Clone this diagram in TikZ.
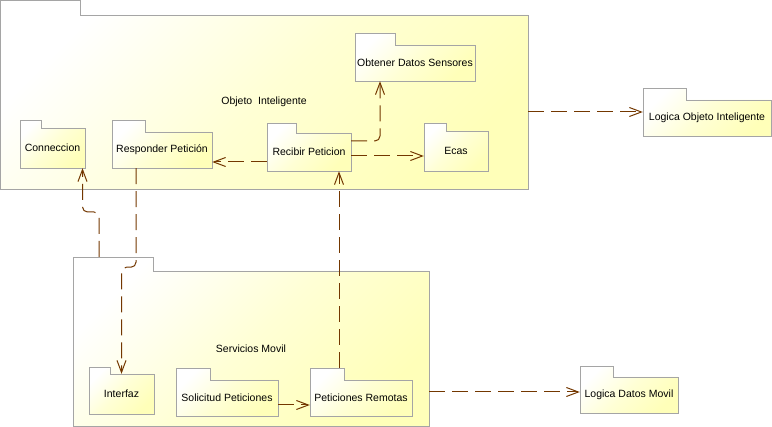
\documentclass[tikz,border=0pt]{standalone}
\usepackage{fontspec}
\setmainfont{Liberation Sans}
\usepackage{tikz}
\usetikzlibrary{arrows.meta}
\definecolor{pkgborder}{RGB}{165,165,165}
\definecolor{pkgyellow}{RGB}{255,255,185}
\definecolor{depbrown}{RGB}{115,55,0}
\def\pkgbox(#1)(#2,#3:#4,#5:#6,#7)#8{%
  \draw[pkg] (#2,#3) -- (#4,#3) -- (#4,#5) -- (#6,#5) -- (#6,#7) -- (#2,#7) -- cycle;
  \coordinate (#1-tab) at (#2,#3);
  \node[pkgtext, minimum width={(#6-#2)*1pt}, minimum height={(#7-#5)*1pt}] (#1) at ({(#2+#6)/2},{(#5+#7)/2}) {#8};}

\begin{document}
\begin{tikzpicture}[x=1pt, y=-1pt,
    pkg/.style={draw=pkgborder, line width=0.8pt, top color=white, bottom color=pkgyellow, middle color=pkgyellow!60, shading angle=45},
    pkgtext/.style={inner sep=0pt, font=\fontsize{10.5}{12}\selectfont},
    dep/.style={draw=depbrown, line width=1pt, dash pattern=on 16pt off 7pt, -{Straight Barb[length=12pt, width=9pt]}}]
			%%%%% START %%%%%
			
			\useasboundingbox (0,0) rectangle (772,427);
			
			\pkgbox(objeto)(0,0:80,15:528,189){Objeto\ \ Inteligente}
			\pkgbox(servicios)(73,257:153,271:429,426){Servicios Movil}
			
			\pkgbox(conneccion)(20,120:41,128:85,168){Conneccion}
			\pkgbox(responder)(112,120:145,132:212,168){Responder Petición}
			\pkgbox(recibir)(267,123:296,133:351,171){Recibir Peticion}
			\pkgbox(obtener)(355,33:395,45:475,81){Obtener Datos Sensores}
			\pkgbox(ecas)(424,123:446,131:488,171){Ecas}
			\pkgbox(logicaoi)(643,88:686,100:771,136){Logica Objeto Inteligente}
			
			\pkgbox(interfaz)(89,367:110,374:154,414){Interfaz}
			\pkgbox(solicitud)(176,368:210,380:278,416){Solicitud Peticiones}
			\pkgbox(remotas)(310,368:344,380:412,416){Peticiones Remotas}
			\pkgbox(logicadm)(580,366:613,377:678,413){Logica Datos Movil}
			
			\coordinate (oi-in) at ([yshift=6pt]logicaoi.west);
			\draw[dep] (objeto.east |- oi-in) -- (oi-in);
			
			\coordinate (dm-in) at ([yshift=3pt]logicadm.west);
			\draw[dep] (servicios.east |- dm-in) -- (dm-in);
			
			\coordinate (rec-resp) at ([yshift=-10pt]recibir.west);
			\draw[dep] (rec-resp) -- (responder.east |- rec-resp);
			
			\coordinate (rec-ecas) at ([yshift=-4pt]recibir.east);
			\draw[dep] (rec-ecas) -- (ecas.west |- rec-ecas);
			
			\draw[dep, rounded corners=5pt] ([yshift=11pt]recibir.east) -| ([xshift=-35pt]obtener.south);
			
			\coordinate (rec-in) at ([xshift=30pt]recibir.south);
			\draw[dep] (rec-in |- remotas-tab) -- (rec-in);
			
			\coordinate (sol-out) at ([yshift=-7pt]solicitud.east);
			\draw[dep] (sol-out) -- (remotas.west |- sol-out);
			
			\coordinate (resp-out) at ([xshift=-26pt]responder.south);
			\draw[dep, rounded corners=5pt] (resp-out) -- ++(0,99) -| (interfaz.north);
			
			\coordinate (serv-out) at ([xshift=26pt]servicios-tab);
			\draw[dep, rounded corners=5pt] (serv-out) -- ++(0,-45) -| ([xshift=30pt]conneccion.south);
			
			%%%%% END %%%%%
\end{tikzpicture}
\end{document}
